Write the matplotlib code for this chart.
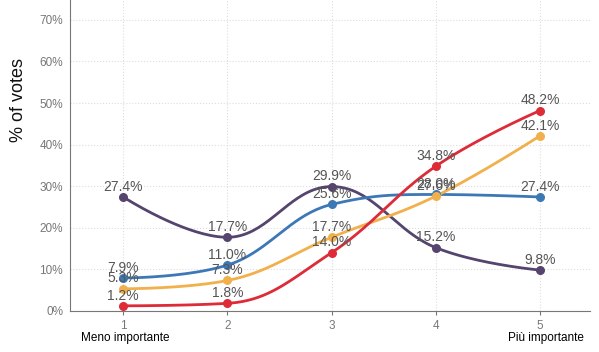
import numpy as np
import matplotlib.pyplot as plt
from matplotlib.ticker import FuncFormatter

plt.rcParams['font.family'] = ['Liberation Sans', 'DejaVu Sans']

x = [1, 2, 3, 4, 5]
purple = [27.4, 17.7, 29.9, 15.2, 9.8]
blue = [7.9, 11.0, 25.6, 28.0, 27.4]
orange = [5.3, 7.3, 17.7, 27.6, 42.1]
red = [1.2, 1.8, 14.0, 34.8, 48.2]

series = [(purple, '#54446e'), (blue, '#3d78b6'), (orange, '#f2b04c'), (red, '#dd2b38')]


def spline(xs, ys, n=40, sm=1.5):
    # bezier spline, control points kept inside neighbours (no false extremes)
    m = len(xs)
    lc = [(xs[i], ys[i]) for i in range(m)]
    rc = [(xs[i], ys[i]) for i in range(m)]
    for i in range(1, m - 1):
        d = sm + 1
        lx = (sm * xs[i] + xs[i - 1]) / d
        ly = (sm * ys[i] + ys[i - 1]) / d
        rx = (sm * xs[i] + xs[i + 1]) / d
        ry = (sm * ys[i] + ys[i + 1]) / d
        corr = (ry - ly) * (rx - xs[i]) / (rx - lx) + ys[i] - ry
        ly += corr
        ry += corr
        last, cur, nxt = ys[i - 1], ys[i], ys[i + 1]
        if ly > last and ly > cur:
            ly = max(last, cur)
            ry = 2 * cur - ly
        elif ly < last and ly < cur:
            ly = min(last, cur)
            ry = 2 * cur - ly
        if ry > nxt and ry > cur:
            ry = max(nxt, cur)
            ly = 2 * cur - ry
        elif ry < nxt and ry < cur:
            ry = min(nxt, cur)
            ly = 2 * cur - ry
        lc[i] = (lx, ly)
        rc[i] = (rx, ry)
    t = np.linspace(0, 1, n)[:, None]
    pts = []
    for i in range(m - 1):
        p0 = np.array([xs[i], ys[i]])
        p1 = np.array(rc[i])
        p2 = np.array(lc[i + 1])
        p3 = np.array([xs[i + 1], ys[i + 1]])
        pts.append((1 - t) ** 3 * p0 + 3 * (1 - t) ** 2 * t * p1 + 3 * (1 - t) * t ** 2 * p2 + t ** 3 * p3)
    pts = np.vstack(pts)
    return pts[:, 0], pts[:, 1]


fig = plt.figure(figsize=(5.99, 3.52), dpi=100)
ax = fig.add_axes([0.117, 0.117, 0.868, 0.883])

for ys, c in series:
    sx, sy = spline(x, ys)
    ax.plot(sx, sy, color=c, lw=2, zorder=3)
    ax.scatter(x, ys, color=c, s=30, zorder=4)
    for xi, yi in zip(x, ys):
        ax.text(xi, yi + 0.8, f'{yi:.1f}%', ha='center', va='bottom', fontsize=10, color='#555555', zorder=5)

ax.set_xlim(0.49, 5.48)
ax.set_ylim(0, 74.8)
ax.set_xticks(x)
ax.set_yticks(range(0, 80, 10))
ax.yaxis.set_major_formatter(FuncFormatter(lambda v, p: f'{v:.0f}%'))
ax.tick_params(colors='#777777', labelsize=8.5, length=3)
ax.tick_params(axis='y', length=0, pad=5)
ax.grid(True, color='#dddddd', ls=':', lw=0.8)
for s in ['top', 'right']:
    ax.spines[s].set_visible(False)
for s in ['left', 'bottom']:
    ax.spines[s].set_color('#777777')
ax.set_ylabel('% of votes', fontsize=13, color='#111111')
ax.yaxis.set_label_coords(-0.082, 0.678)

ax.text(1.02, -5.0, 'Meno importante', ha='center', va='top', fontsize=8.5, color='black', clip_on=False)
ax.text(5.06, -5.0, 'Più importante', ha='center', va='top', fontsize=8.5, color='black', clip_on=False)

fig.savefig('out.png', dpi=100)
